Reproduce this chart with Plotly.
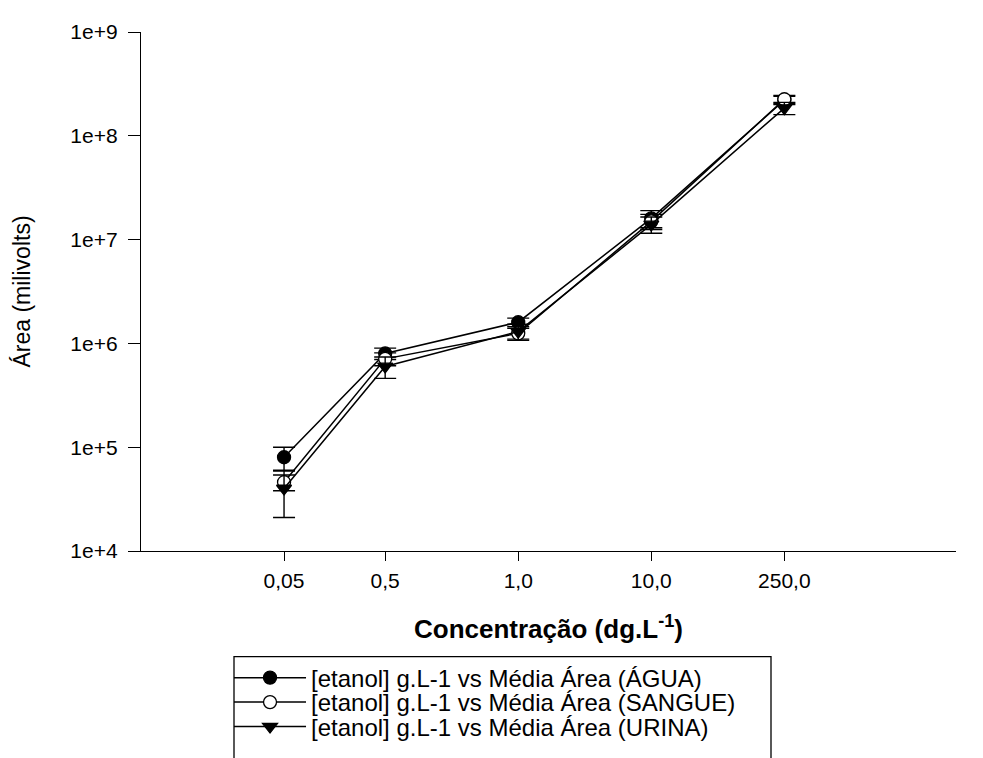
import plotly.graph_objects as go

# category labels and their position along the x axis (category index units)
categories = ["0,05", "0,5", "1,0", "10,0", "250,0"]
x_pos = [1.24, 2, 3, 4, 5]

agua = [8.0e4, 8.0e5, 1.6e6, 1.6e7, 2.2e8]
agua_err = [2.0e4, 1.0e5, 1.5e5, 3.0e6, 2.0e7]

sangue = [4.6e4, 7.1e5, 1.25e6, 1.5e7, 2.25e8]
sangue_err = [0.8e4, 1.0e5, 1.5e5, 2.5e6, 2.0e7]

urina = [4.0e4, 6.0e5, 1.3e6, 1.4e7, 1.85e8]
urina_err = [1.9e4, 1.4e5, 2.3e5, 2.5e6, 2.5e7]

series_names = [
    "[etanol] g.L-1 vs Média Área (ÁGUA)",
    "[etanol] g.L-1 vs Média Área (SANGUE)",
    "[etanol] g.L-1 vs Média Área (URINA)",
]

y_tickvals = [1e4, 1e5, 1e6, 1e7, 1e8, 1e9]
y_ticktext = ["1e+4", "1e+5", "1e+6", "1e+7", "1e+8", "1e+9"]

fig = go.Figure()

styles = [
    dict(symbol="circle", color="black", line=dict(color="black", width=1.3)),
    dict(symbol="circle", color="white", line=dict(color="black", width=1.3)),
    dict(symbol="triangle-down", color="black", line=dict(color="black", width=1.3)),
]
legend_ids = ["legend", "legend2", "legend3"]

# plot area geometry (pixels) used to place legend rows/box in paper units
W, H = 983, 758
ML, MR, MT, MB = 133, 35, 12, 215
PW, PH = W - ML - MR, H - MT - MB
bottom_px = H - MB


def py(px):
    return (bottom_px - px) / PH


def pxx(px):
    return (px - ML) / PW


legend_rows = [py(673), py(698), py(723)]

for name, vals, errs, st, lg in zip(series_names, [agua, sangue, urina],
                                    [agua_err, sangue_err, urina_err], styles, legend_ids):
    fig.add_trace(go.Scatter(
        x=x_pos, y=vals, name=name, mode="lines+markers",
        line=dict(color="black", width=1.5),
        marker=dict(size=13, **st),
        error_y=dict(type="data", array=errs, visible=True,
                     color="black", thickness=1.4, width=11),
        legend=lg,
    ))

legend_common = dict(
    x=0.108, xanchor="left", yanchor="middle",
    bgcolor="rgba(0,0,0,0)", borderwidth=0,
    font=dict(size=24), itemwidth=72,
)

fig.update_layout(
    width=W, height=H,
    paper_bgcolor="white", plot_bgcolor="white",
    margin=dict(l=ML, r=MR, t=MT, b=MB),
    font=dict(family="Liberation Sans, Arial, sans-serif", color="black", size=21),
    showlegend=True,
    legend=dict(y=legend_rows[0], **legend_common),
    legend2=dict(y=legend_rows[1], **legend_common),
    legend3=dict(y=legend_rows[2], **legend_common),
    shapes=[dict(type="rect", xref="paper", yref="paper",
                 x0=pxx(226), x1=pxx(763), y0=py(651), y1=py(790),
                 line=dict(color="black", width=1.3), fillcolor="rgba(0,0,0,0)",
                 layer="below")],
)

fig.update_xaxes(
    range=[0.165, 6.29],
    tickvals=x_pos, ticktext=categories,
    showline=True, linecolor="black", linewidth=1.4,
    ticks="outside", ticklen=9, tickcolor="black", tickwidth=1.4,
    ticklabelstandoff=2,
    showgrid=False, zeroline=False,
    tickfont=dict(size=21),
    title=dict(text="<b>Concentração (dg.L<sup>-1</sup>)</b>",
               font=dict(size=26), standoff=28),
)

fig.update_yaxes(
    type="log", range=[4, 9],
    tickvals=y_tickvals, ticktext=y_ticktext,
    showline=True, linecolor="black", linewidth=1.4,
    ticks="outside", ticklen=12, tickcolor="black", tickwidth=1.4,
    ticklabelstandoff=6,
    showgrid=False, zeroline=False,
    tickfont=dict(size=21),
    title=dict(text="Área (milivolts)", font=dict(size=23), standoff=33),
)

fig.write_html("out.html")
